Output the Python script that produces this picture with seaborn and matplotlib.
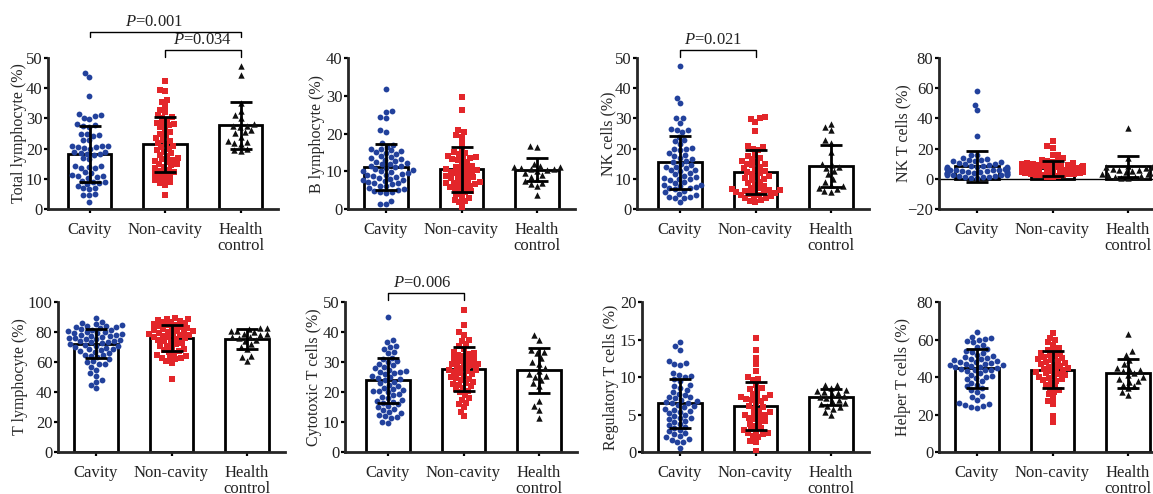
# plot.py
# Lymphocyte subsets in cavity / non-cavity patients vs health control
import warnings
import pandas as pd
import matplotlib
matplotlib.use("Agg")
import matplotlib.pyplot as plt
import seaborn as sns

warnings.filterwarnings("ignore")

# -- Data
GROUPS = ["Cavity", "Non-cavity", "Health\ncontrol"]

total_cav = [45.0, 43.7, 37.4, 31.5, 31.2, 30.8, 30.2, 29.8, 28.0, 27.7, 27.5, 27.3, 25.0, 24.8,
             24.5, 24.3, 23.0, 22.7, 21.0, 20.8, 20.8, 20.5, 20.4, 20.2, 20.0, 19.0, 18.8, 18.5,
             18.3, 18.1, 17.9, 16.8, 16.5, 14.3, 14.1, 13.9, 13.7, 13.5, 12.3, 12.0, 11.2, 11.0,
             10.8, 10.5, 10.3, 9.3, 9.0, 8.8, 8.6, 8.3, 7.5, 7.1, 6.8, 6.5, 5.0, 4.7, 4.5, 2.3]
total_non = [42.3, 39.3, 39.0, 36.0, 35.5, 34.0, 32.8, 32.0, 31.0, 30.5, 30.0, 29.5, 28.5, 28.3,
             28.0, 27.8, 27.0, 26.5, 25.5, 25.0, 24.5, 23.5, 23.0, 22.5, 22.0, 21.5, 21.0, 20.5,
             20.0, 19.5, 19.0, 18.5, 18.0, 17.5, 17.0, 16.5, 16.2, 15.8, 15.5, 15.0, 14.8, 14.5,
             14.0, 13.5, 13.0, 12.5, 12.2, 11.8, 11.5, 11.0, 10.5, 10.0, 9.5, 9.0, 8.5, 8.0, 4.5]
total_hc = [47.3, 44.5, 35.0, 32.5, 31.0, 30.0, 28.0, 27.6, 27.4, 27.0, 26.0, 25.6, 25.3, 24.0,
            22.5, 22.2, 21.8, 21.5, 20.0, 19.6, 19.3]

b_cav = [31.8, 26.0, 25.8, 24.5, 24.0, 21.0, 20.5, 17.5, 17.0, 16.5, 16.0, 15.8, 15.5, 15.4,
         15.0, 14.8, 14.5, 14.0, 13.8, 13.5, 13.2, 13.0, 12.8, 12.5, 12.1, 12.0, 11.8, 11.5,
         11.4, 11.0, 10.8, 10.5, 10.2, 10.1, 10.0, 9.8, 9.5, 9.2, 9.1, 9.0, 8.8, 8.5, 8.2, 8.0,
         7.8, 7.6, 7.5, 7.2, 7.0, 6.8, 6.5, 6.2, 6.0, 5.5, 5.2, 5.0, 4.8, 4.5, 4.4, 4.3, 2.0,
         1.3, 1.2]
b_non = [29.8, 26.3, 20.8, 20.5, 19.5, 19.2, 17.5, 16.0, 15.0, 14.8, 14.5, 14.0, 13.8, 13.6,
         13.5, 13.2, 13.0, 12.5, 12.0, 11.5, 11.0, 10.8, 10.6, 10.5, 10.2, 10.0, 9.8, 9.5, 9.2,
         9.0, 8.8, 8.5, 8.2, 8.0, 7.8, 7.5, 7.2, 7.0, 6.8, 6.6, 6.5, 6.2, 6.0, 5.8, 5.5, 5.0,
         4.8, 4.5, 4.0, 3.5, 3.0, 2.5, 2.0, 1.8, 0.5]
b_hc = [16.8, 16.5, 12.0, 11.5, 11.1, 11.0, 10.8, 10.6, 10.5, 10.2, 10.0, 9.5, 9.0, 8.5, 8.0,
        7.5, 7.0, 6.5, 6.0, 3.8]

nk_cav = [47.3, 36.8, 35.2, 30.2, 30.0, 28.5, 26.5, 26.3, 26.0, 25.5, 24.0, 23.0, 22.5, 21.5,
          20.1, 20.0, 19.8, 19.5, 18.5, 18.0, 17.5, 17.0, 16.5, 16.0, 15.5, 15.0, 14.5, 14.0,
          13.8, 13.5, 13.0, 12.8, 12.5, 12.0, 11.5, 11.0, 10.5, 10.2, 10.0, 9.8, 9.5, 9.0, 8.5,
          8.1, 8.0, 7.5, 7.2, 7.0, 6.8, 6.5, 6.0, 5.5, 5.0, 4.5, 4.1, 4.0, 3.8, 3.5, 2.3]
nk_non = [30.3, 30.0, 29.8, 28.8, 25.8, 21.0, 20.5, 20.0, 19.5, 18.0, 17.5, 17.0, 16.5, 16.0,
          15.5, 15.0, 14.8, 14.5, 14.0, 13.5, 13.0, 12.5, 12.1, 12.0, 11.5, 11.0, 10.5, 10.1,
          10.0, 9.5, 9.0, 8.5, 8.0, 7.5, 7.0, 6.8, 6.5, 6.3, 6.2, 6.0, 5.8, 5.6, 5.5, 5.2, 5.0,
          4.8, 4.5, 4.2, 4.0, 3.8, 3.5, 3.0, 2.8, 2.3]
nk_hc = [28.3, 27.2, 26.0, 23.0, 22.0, 19.0, 15.0, 14.5, 14.0, 13.5, 12.5, 11.5, 10.0, 9.0,
         8.0, 7.5, 7.0, 6.5, 6.0, 5.5]

nkt_cav = [58.0, 49.2, 45.5, 28.5, 16.0, 15.5, 13.5, 13.0, 12.5, 12.3, 12.0, 11.5, 11.0, 10.5,
           10.0, 9.5, 9.0, 8.8, 8.5, 8.0, 7.8, 7.5, 7.2, 7.0, 6.8, 6.5, 6.2, 6.0, 5.8, 5.5, 5.2,
           5.0, 4.8, 4.5, 4.2, 4.0, 3.8, 3.5, 3.2, 3.0, 2.8, 2.5, 2.2, 2.0, 1.8, 1.5, 1.2, 1.0,
           0.8, 0.5, 6.4, 5.6, 4.4, 3.6, 2.6]
nkt_non = [25.0, 22.0, 20.5, 16.0, 15.5, 13.5, 12.5, 12.0, 11.5, 11.0, 10.5, 10.2, 10.0, 9.5,
           9.2, 9.0, 8.6, 8.5, 8.2, 8.0, 7.6, 7.5, 7.2, 7.0, 6.6, 6.5, 6.2, 6.0, 5.6, 5.5, 5.2,
           5.0, 4.6, 4.5, 4.2, 4.0, 3.6, 3.5, 3.2, 3.0, 2.6, 2.5, 2.2, 2.0, 1.5, 1.0]
nkt_hc = [33.5, 13.5, 8.5, 8.0, 7.5, 7.0, 6.5, 6.0, 5.5, 5.0, 4.5, 4.0, 3.5, 3.0, 2.5, 2.0,
          1.5, 1.0, 0.8, 0.5]

t_cav = [89.5, 87.0, 86.0, 85.5, 84.5, 84.0, 83.6, 83.2, 82.5, 82.0, 81.6, 81.2, 80.5, 80.0,
         79.6, 79.2, 78.5, 78.0, 77.6, 77.2, 76.5, 76.0, 75.6, 75.2, 74.5, 74.0, 73.6, 73.2,
         72.5, 72.0, 71.6, 71.0, 70.5, 70.0, 69.5, 69.0, 68.5, 68.0, 67.5, 67.0, 66.0, 65.0,
         64.5, 64.0, 63.5, 62.0, 60.5, 60.0, 59.0, 58.5, 57.0, 55.0, 52.5, 51.0, 48.0, 47.0,
         45.0, 43.0, 83.8, 79.8, 77.8, 75.8, 73.8]
t_non = [89.5, 89.0, 88.5, 88.0, 87.5, 87.0, 86.5, 86.0, 85.5, 85.0, 84.0, 83.5, 83.0, 82.0,
         81.5, 81.0, 80.5, 80.0, 79.5, 79.0, 78.5, 78.0, 77.5, 77.0, 76.5, 76.0, 75.5, 75.0,
         74.0, 73.5, 73.0, 72.0, 71.0, 70.5, 70.0, 69.0, 68.0, 67.5, 67.0, 66.0, 65.0, 64.0,
         63.5, 63.0, 62.5, 62.0, 61.0, 59.5, 48.5, 84.5, 82.5, 80.2, 78.2]
t_hc = [83.0, 82.5, 82.0, 81.0, 80.5, 80.0, 79.0, 78.5, 78.0, 77.0, 76.5, 76.0, 75.0, 74.0,
        72.0, 70.0, 68.5, 64.0, 63.5, 60.5]

ctl_cav = [45.0, 37.5, 36.8, 35.5, 35.0, 34.5, 33.5, 33.0, 31.5, 31.0, 30.5, 30.0, 29.5, 29.0,
           28.5, 28.0, 27.5, 27.0, 26.6, 26.5, 26.0, 25.5, 25.0, 24.5, 24.0, 23.5, 23.0, 22.5,
           22.0, 21.5, 21.0, 20.5, 20.2, 20.0, 19.5, 19.0, 18.5, 18.0, 17.5, 17.0, 16.5, 16.0,
           15.5, 15.0, 14.5, 14.0, 13.5, 13.0, 12.5, 12.0, 11.6, 11.5, 10.0, 9.8, 26.8, 24.8,
           20.8, 16.8]
ctl_non = [47.3, 42.5, 40.0, 39.0, 37.5, 37.0, 36.0, 35.5, 34.5, 33.5, 33.0, 32.5, 32.0, 31.5,
           31.0, 30.5, 30.0, 29.5, 29.0, 28.5, 28.0, 27.5, 27.0, 26.5, 26.0, 25.5, 25.0, 24.5,
           24.0, 23.5, 23.0, 22.5, 22.0, 21.5, 21.0, 20.5, 20.0, 19.0, 18.0, 17.5, 16.5, 16.0,
           15.0, 13.5, 12.0, 32.8, 30.8, 28.8, 26.8, 24.8, 22.8, 29.2, 27.2]
ctl_hc = [39.0, 37.5, 34.0, 33.5, 33.0, 31.5, 30.0, 29.5, 28.0, 27.0, 26.0, 25.5, 25.0, 24.0,
          23.0, 22.0, 17.0, 15.5, 14.0, 11.5]

treg_cav = [14.7, 14.1, 13.6, 12.2, 11.9, 11.7, 11.6, 10.6, 10.3, 10.1, 10.0, 9.8, 9.5, 9.0,
            8.8, 8.6, 8.3, 8.0, 7.8, 7.6, 7.4, 7.2, 7.0, 6.8, 6.6, 6.5, 6.3, 6.1, 6.0, 5.8, 5.6,
            5.4, 5.2, 5.0, 4.8, 4.6, 4.4, 4.2, 4.0, 3.8, 3.6, 3.4, 3.2, 3.0, 2.8, 2.6, 2.4, 2.2,
            2.0, 1.8, 1.6, 1.4, 1.3, 0.6, 7.3, 6.7, 5.5, 4.5]
treg_non = [15.2, 13.6, 12.6, 11.8, 10.8, 10.0, 9.8, 9.6, 9.0, 8.6, 8.4, 8.2, 7.8, 7.6, 7.4,
            7.3, 7.2, 7.0, 6.8, 6.5, 6.2, 6.0, 5.8, 5.5, 5.3, 5.0, 4.8, 4.6, 4.4, 4.2, 4.0, 3.8,
            3.5, 3.2, 3.0, 2.8, 2.6, 2.5, 2.4, 2.2, 2.0, 1.5, 1.4, 0.1, 7.1, 5.1, 4.9, 3.1]
treg_hc = [9.0, 8.9, 8.6, 8.3, 8.2, 8.0, 7.9, 7.7, 7.5, 7.3, 7.2, 7.0, 6.8, 6.6, 6.4, 6.2, 6.0,
           5.8, 5.4, 5.0]

th_cav = [64.0, 61.5, 61.0, 60.5, 59.5, 59.0, 58.5, 57.0, 56.0, 55.0, 54.0, 53.5, 53.0, 52.0,
          51.0, 50.5, 50.0, 49.5, 49.0, 48.5, 48.0, 47.5, 47.0, 46.5, 46.0, 45.5, 45.0, 44.5,
          44.0, 43.5, 43.0, 42.0, 41.0, 40.5, 40.0, 39.5, 39.0, 38.0, 37.0, 36.0, 35.0, 34.0,
          33.0, 32.0, 30.0, 29.5, 28.0, 26.0, 25.5, 25.0, 24.5, 24.0, 23.5, 48.2, 47.2, 46.2,
          45.2, 49.8, 43.8]
th_non = [63.5, 61.0, 59.5, 58.5, 57.0, 55.5, 54.5, 54.0, 53.0, 52.5, 52.0, 51.0, 50.5, 50.0,
          49.5, 49.0, 48.5, 48.0, 47.5, 47.0, 46.0, 45.5, 45.0, 44.5, 44.0, 43.0, 42.5, 42.0,
          41.0, 40.5, 40.0, 39.5, 39.0, 38.0, 37.0, 36.0, 35.0, 34.0, 33.0, 32.0, 31.0, 29.0,
          27.0, 25.5, 19.0, 16.0, 46.5, 43.5, 41.5, 38.5]
th_hc = [63.0, 54.0, 52.0, 49.0, 47.0, 45.0, 44.5, 44.0, 43.0, 42.0, 41.0, 40.0, 39.0, 38.0,
         37.5, 36.0, 35.0, 34.0, 32.0, 30.5]

# bar heights (mean) and error bars (SD) as drawn in the figure
MEANS = [[18.3, 21.4, 27.7], [11.2, 10.5, 10.4], [15.4, 12.3, 14.3], [8.2, 7.1, 8.2],
         [72.2, 76.0, 75.3], [23.9, 27.6, 27.2], [6.5, 6.1, 7.3], [44.8, 43.9, 42.0]]
SDS = [[9.2, 9.0, 7.7], [6.1, 5.9, 3.0], [8.8, 7.3, 7.0], [10.5, 5.0, 7.2],
       [9.8, 8.9, 6.4], [7.6, 7.4, 7.4], [3.3, 3.2, 1.05], [10.4, 10.0, 7.6]]

YLABELS = ["Total lymphocyte (%)", "B lymphocyte (%)", "NK cells (%)", "NK T cells (%)",
           "T lymphocyte (%)", "Cytotoxic T cells (%)", "Regulatory T cells (%)",
           "Helper T cells (%)"]
YLIMS = [(0, 50), (0, 40), (0, 50), (-20, 80), (0, 100), (0, 50), (0, 20), (0, 80)]
YSTEPS = [10, 10, 10, 20, 20, 10, 5, 20]

SERIES = [(total_cav, total_non, total_hc), (b_cav, b_non, b_hc), (nk_cav, nk_non, nk_hc),
          (nkt_cav, nkt_non, nkt_hc), (t_cav, t_non, t_hc), (ctl_cav, ctl_non, ctl_hc),
          (treg_cav, treg_non, treg_hc), (th_cav, th_non, th_hc)]

# -- Styling
COLORS = ["#22419c", "#e3262a", "#111111"]
MARKERS = ["o", "s", "^"]
MSIZES = [4.2, 3.8, 4.6]

sns.set_style("ticks")
plt.rcParams["font.family"] = ["Liberation Serif", "DejaVu Serif"]
plt.rcParams["mathtext.fontset"] = "custom"
plt.rcParams["mathtext.it"] = "Liberation Serif:italic"
plt.rcParams["mathtext.rm"] = "Liberation Serif"

W, H = 1153, 494
SPACE = 75.5  # px between category centres
# left spine x and first category centre (px), per panel
AX_LEFT = [48, 348, 637, 939, 58, 345, 642, 939]
CAT0 = [89.5, 386, 680, 977, 96, 388, 680, 977]
# y-label centre, px left of the spine
YLAB_OFF = [29, 31, 29, 36, 38, 31, 31, 36]
ROW_Y = [(58, 209), (302, 452)]  # top, bottom px


def make_axes(fig, i):
    top, bot = ROW_Y[i // 4]
    lo = -(CAT0[i] - AX_LEFT[i]) / SPACE
    width = (2.5 - lo) * SPACE
    ax = fig.add_axes([AX_LEFT[i] / W, (H - bot) / H, width / W, (bot - top) / H])
    return ax, lo, width


def draw_panel(ax, lo, width, i):
    vals = SERIES[i]
    bars = pd.DataFrame({"group": GROUPS, "mean": MEANS[i]})
    sns.barplot(data=bars, x="group", y="mean", order=GROUPS, color="white",
                edgecolor="black", linewidth=2, width=0.57, errorbar=None, ax=ax, zorder=1)

    for g, v in enumerate(vals):
        pts = pd.DataFrame({"group": GROUPS[g], "value": v})
        sns.swarmplot(data=pts, x="group", y="value", order=GROUPS, color=COLORS[g],
                      marker=MARKERS[g], size=MSIZES[g], linewidth=0, ax=ax, zorder=3)

    ax.errorbar(range(3), MEANS[i], yerr=SDS[i], fmt="none", ecolor="black",
                elinewidth=2, capsize=8, capthick=2, zorder=5)

    if i == 3:
        ax.axhline(0, color="black", lw=1, zorder=2)

    ax.set_xlim(lo, 2.5)
    ymin, ymax = YLIMS[i]
    ax.set_ylim(ymin, ymax)
    ax.set_yticks(range(ymin, ymax + 1, YSTEPS[i]))
    ax.set_xlabel("")
    ax.set_ylabel(YLABELS[i], fontsize=11.5, va="center")
    ax.yaxis.set_label_coords(-YLAB_OFF[i] / width, 0.5)
    ax.tick_params(axis="both", labelsize=12, width=1.6, length=3, color="black",
                   labelcolor="#222222")
    ax.tick_params(axis="y", pad=1)
    ax.tick_params(axis="x", pad=6.5)
    for lbl in ax.get_xticklabels():
        lbl.set_linespacing(1.0)
    sns.despine(ax=ax)
    ax.spines["left"].set_linewidth(2)
    ax.spines["bottom"].set_linewidth(2)


def draw_bracket(ax, a, b, label, y, drop, text_x=None):
    ax.plot([a, a, b, b], [y - drop, y, y, y - drop], color="black", lw=1, clip_on=False)
    tx = (a + b) / 2 if text_x is None else text_x
    ax.text(tx, y + drop * 0.3, r"$P$=" + label, ha="center", va="bottom", fontsize=12,
            color="#222222", clip_on=False)


fig = plt.figure(figsize=(W / 100, H / 100), dpi=100)
fig.patch.set_facecolor("white")
axes = []
for i in range(8):
    ax, lo, width = make_axes(fig, i)
    draw_panel(ax, lo, width, i)
    axes.append(ax)

# brackets: heights in data units of each panel
draw_bracket(axes[0], 0, 2, "0.001", 58.6, 1.7, text_x=0.86)
draw_bracket(axes[0], 1, 2, "0.034", 52.6, 2.3)
draw_bracket(axes[2], 0, 1, "0.021", 52.6, 2.3, text_x=0.44)
draw_bracket(axes[5], 0, 1, "0.006", 53.0, 2.3, text_x=0.46)

fig.savefig("out.png", dpi=100, facecolor="white")
